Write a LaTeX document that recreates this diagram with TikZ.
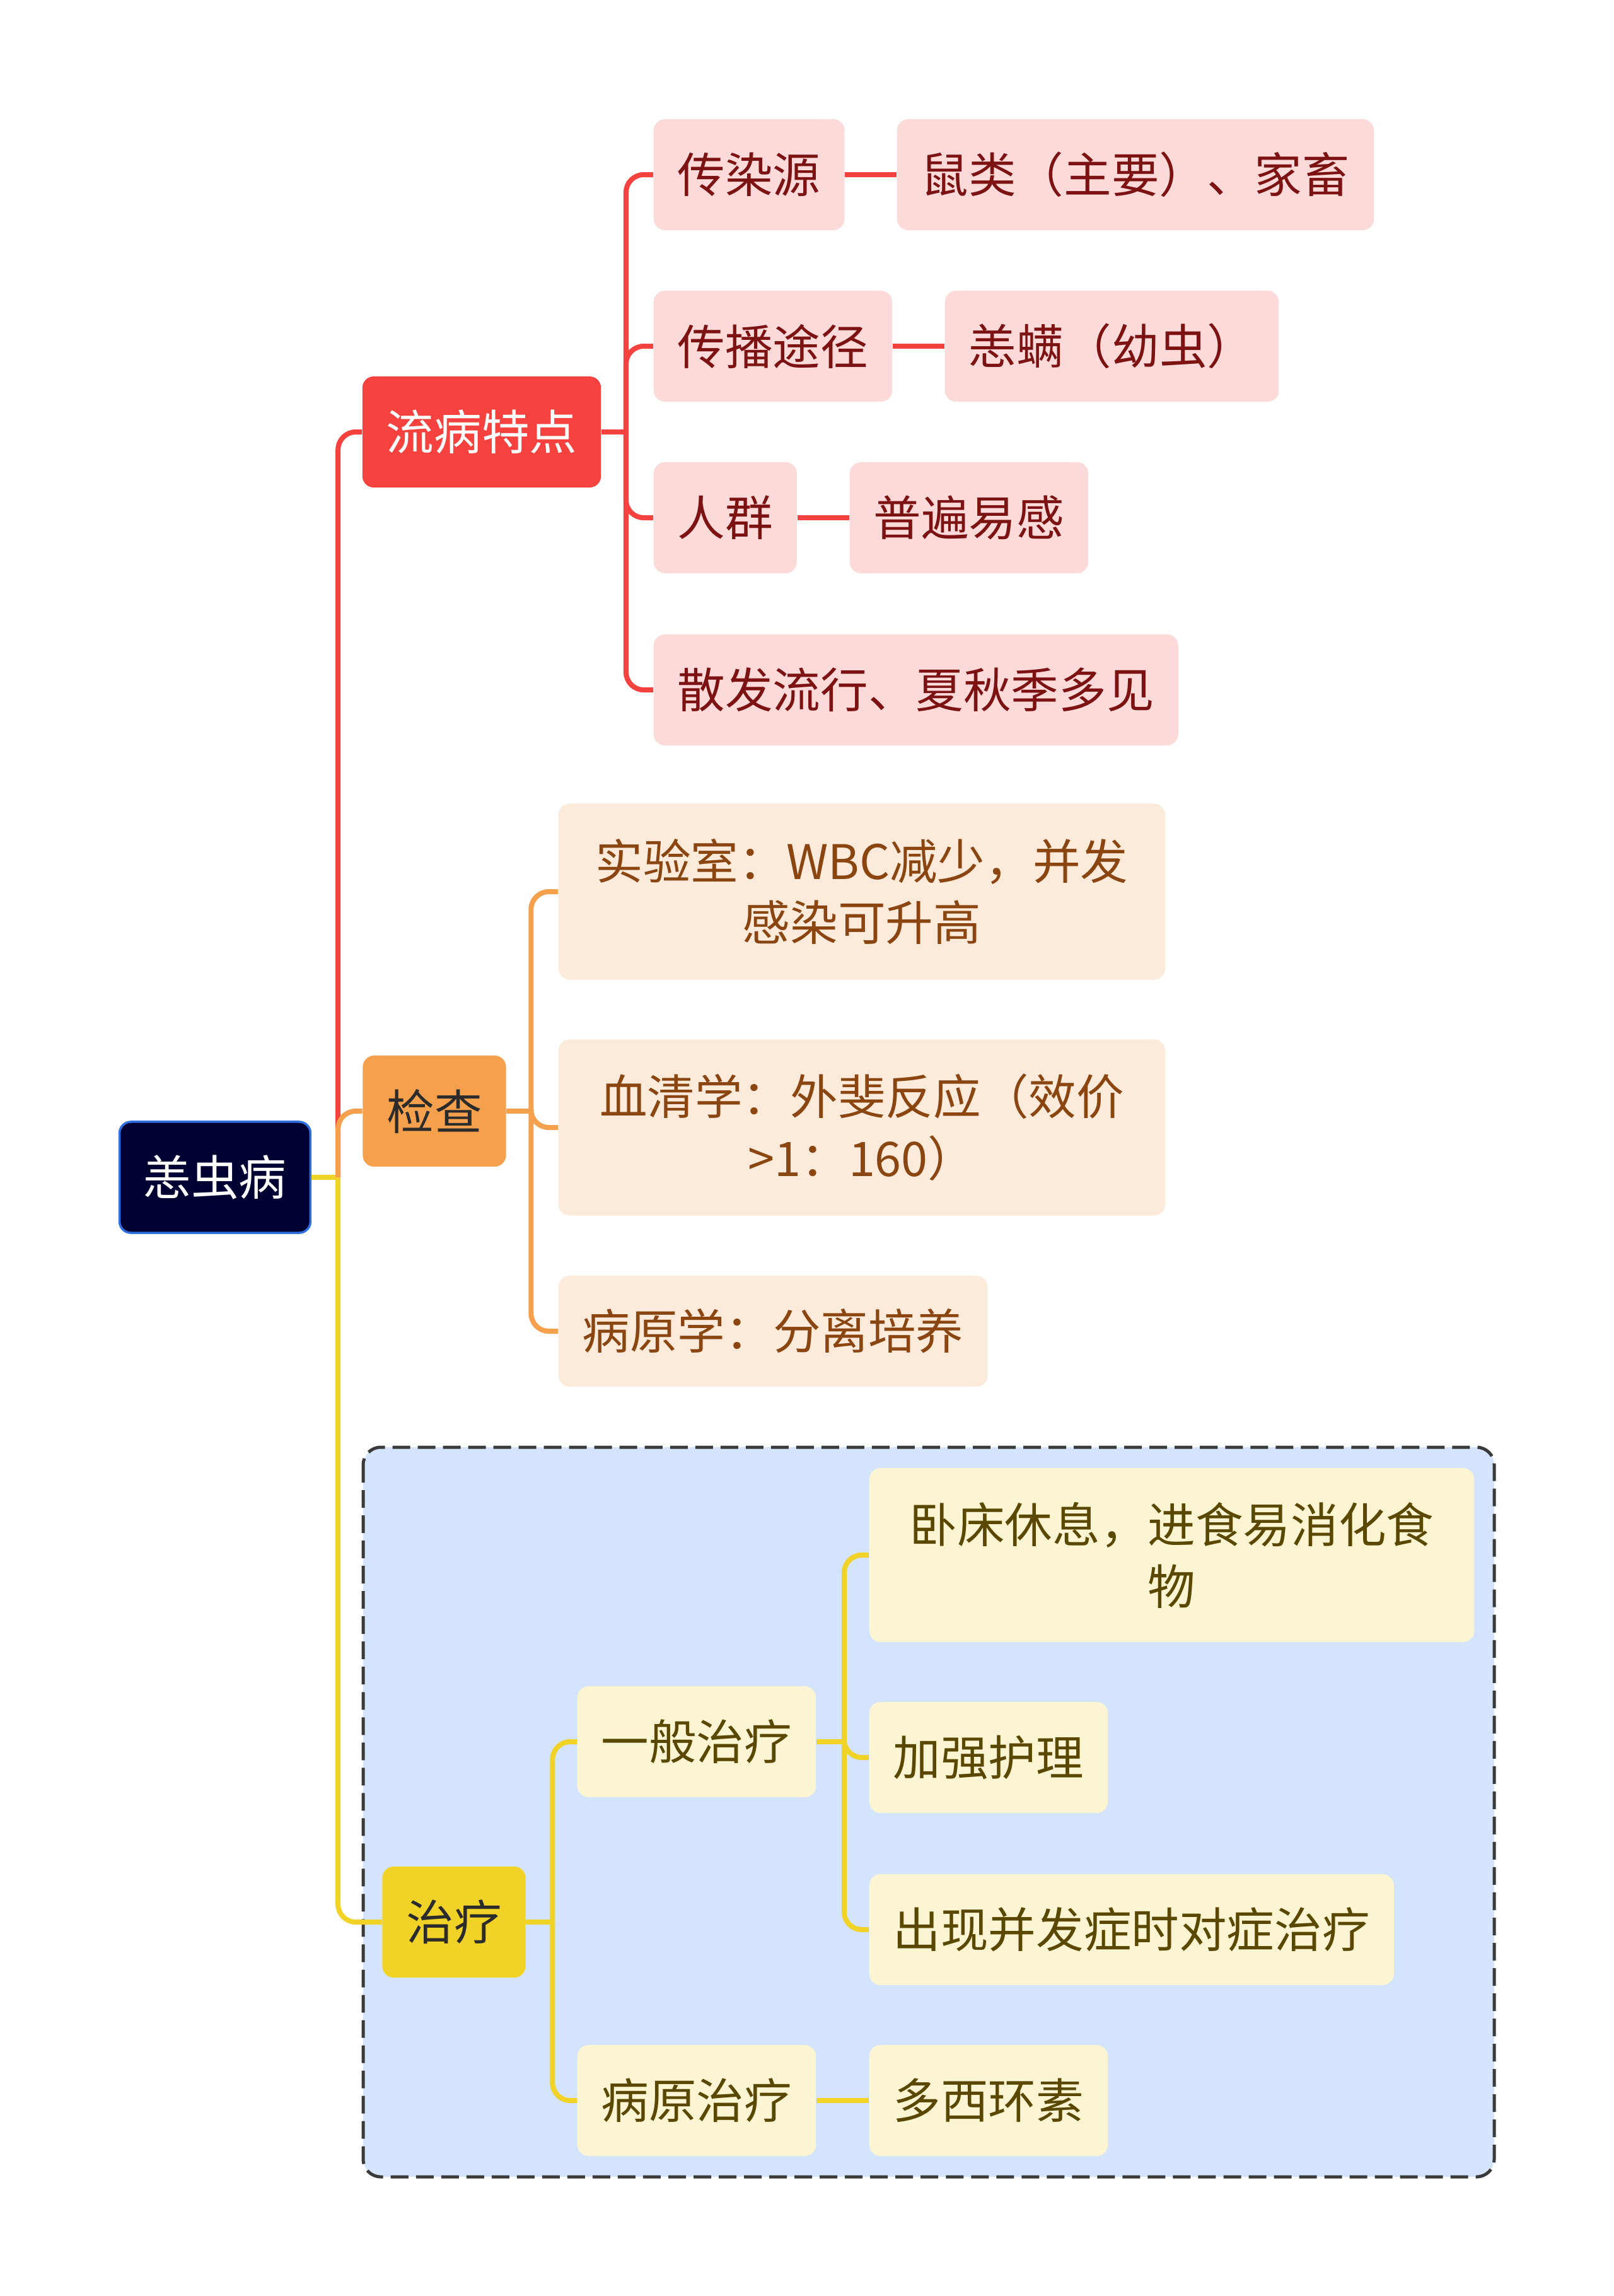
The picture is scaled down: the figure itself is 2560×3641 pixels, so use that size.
\documentclass[tikz,border=0pt]{standalone}
\usepackage{fontspec}
\setmainfont{Noto Sans CJK SC}
\usepackage{tikz}
\usepackage{xcolor}
\definecolor{rootfill}{HTML}{000033}
\definecolor{rootedge}{HTML}{2F6FE0}
\definecolor{redmain}{HTML}{F5423E}
\definecolor{redlight}{HTML}{FDDADA}
\definecolor{redtext}{HTML}{7D1212}
\definecolor{orgmain}{HTML}{F4A04C}
\definecolor{orglight}{HTML}{FCEBDB}
\definecolor{orgtext}{HTML}{8A4510}
\definecolor{ylwmain}{HTML}{F1D227}
\definecolor{ylwlight}{HTML}{FCF5D4}
\definecolor{ylwtext}{HTML}{5A4800}
\definecolor{grpfill}{HTML}{D4E4FC}
\definecolor{grpedge}{HTML}{3A3A3A}
\definecolor{darktext}{HTML}{2B2B2B}

\tikzset{
  box/.style={rounded corners=0.18cm, inner xsep=0.38cm, minimum height=1.76cm,
              font=\fontsize{21.5pt}{27.8pt}\selectfont, align=center},
  rootbox/.style={box, fill=rootfill, draw=rootedge, line width=1pt, text=white},
  redbox/.style={box, fill=redmain, text=white},
  redsub/.style={box, fill=redlight, text=redtext, anchor=west},
  orgbox/.style={box, fill=orgmain, text=darktext},
  orgsub/.style={box, fill=orglight, text=orgtext, anchor=west},
  ylwbox/.style={box, fill=ylwmain, text=darktext},
  ylwsub/.style={box, fill=ylwlight, text=ylwtext, anchor=west},
  link/.style={line width=0.08cm, rounded corners=0.28cm},
  redline/.style={link, draw=redmain},
  orgline/.style={link, draw=orgmain},
  ylwline/.style={link, draw=ylwmain},
}

\begin{document}
\begin{tikzpicture}[x=0.01cm, y=-0.01cm]
  \useasboundingbox (0,0) rectangle (2560,3641);

  % treatment group frame
  \draw[fill=grpfill, draw=grpedge, line width=0.05cm, dash pattern=on 0.28cm off 0.12cm,
        rounded corners=0.28cm] (576,2295) rectangle (2370,3452);

  % main topics
  \node[rootbox] (root) at (341,1867) {恙虫病};
  \node[redbox] (lbtd) at (764,685) {流病特点};
  \node[orgbox] (jc) at (689,1762) {检查};
  \node[ylwbox] (zl) at (720,3048) {治疗};

  % epidemiology
  \node[redsub] (cry) at (1036,277) {传染源};
  \node[redsub] (shl) at (1422,277) {鼠类（主要）、家畜};
  \node[redsub] (cbtj) at (1036,549) {传播途径};
  \node[redsub] (ym) at (1498,549) {恙螨（幼虫）};
  \node[redsub] (rq) at (1036,821) {人群};
  \node[redsub] (pbyg) at (1347,821) {普遍易感};
  \node[redsub] (sflx) at (1036,1094) {散发流行、夏秋季多见};

  % examination
  \node[orgsub, text width=8.86cm, minimum height=2.79cm] (sys) at (885,1414)
    {实验室：WBC减少，并发\\感染可升高};
  \node[orgsub, text width=8.86cm, minimum height=2.79cm] (xqx) at (885,1788)
    {血清学：外斐反应（效价\\>1：160）};
  \node[orgsub] (byx) at (885,2111) {病原学：分离培养};

  % treatment
  \node[ylwsub] (ybzl) at (915,2762) {一般治疗};
  \node[ylwsub] (byzl) at (915,3331) {病原治疗};
  \node[ylwsub, text width=8.83cm, minimum height=2.76cm] (wcxx) at (1378,2466)
    {卧床休息，进食易消化食\\物};
  \node[ylwsub] (jqhl) at (1378,2787) {加强护理};
  \node[ylwsub] (cxbf) at (1378,3060) {出现并发症时对症治疗};
  \node[ylwsub] (dxhs) at (1378,3331) {多西环素};

  % connectors
  \draw[ylwline] (root.east) -- ++(42,0) coordinate (j0);
  \draw[redline] (j0) |- (lbtd.west);
  \draw[orgline] (j0) |- (jc.west);
  \draw[ylwline] (j0) |- (zl.west);

  \draw[redline] (lbtd.east) -- ++(39,0) coordinate (j1);
  \foreach \n in {cry,cbtj,rq,sflx}
    \draw[redline] (j1) |- (\n.west);
  \draw[redline] (cry.east) -- (shl.west);
  \draw[redline] (cbtj.east) -- (ym.west);
  \draw[redline] (rq.east) -- (pbyg.west);

  \draw[orgline] (jc.east) -- ++(39,0) coordinate (j2);
  \foreach \n in {sys,xqx,byx}
    \draw[orgline] (j2) |- (\n.west);

  \draw[ylwline] (zl.east) -- ++(42,0) coordinate (j3);
  \foreach \n in {ybzl,byzl}
    \draw[ylwline] (j3) |- (\n.west);

  \draw[ylwline] (ybzl.east) -- ++(44,0) coordinate (j4);
  \foreach \n in {wcxx,jqhl,cxbf}
    \draw[ylwline] (j4) |- (\n.west);
  \draw[ylwline] (byzl.east) -- (dxhs.west);
\end{tikzpicture}
\end{document}
